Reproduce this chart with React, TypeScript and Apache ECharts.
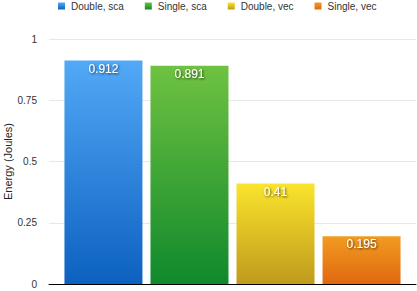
import React, { useEffect, useRef } from "react";
import * as echarts from "echarts";

const seriesNames = ["Double, sca", "Single, sca", "Double, vec", "Single, vec"];
const seriesValues = [0.912, 0.891, 0.41, 0.195];
const yTicks = [0, 0.25, 0.5, 0.75, 1];
const topColors = ["#52a9f6", "#6fc241", "#fae42c", "#f29b22"];
const bottomColors = ["#0c61c0", "#10892c", "#c09a1c", "#e0680f"];

export default function App() {
  const ref = useRef<HTMLDivElement>(null);
  useEffect(() => {
    const chart = echarts.init(ref.current!, null, { renderer: "svg" });
    chart.setOption({
      animation: false,
      textStyle: { fontFamily: "Liberation Sans, Arial, sans-serif" },
      legend: {
        top: 0,
        left: 58,
        padding: [1, 0, 1, 0],
        itemWidth: 9,
        itemHeight: 7,
        itemGap: 21,
        icon: "path://M0,0H7V7H0Z",
        textStyle: { fontSize: 10, color: "#333" },
        data: seriesNames,
      },
      grid: { left: 49, right: 1, top: 39, bottom: 7, containLabel: false, outerBoundsMode: "none" },
      xAxis: {
        type: "category",
        data: [""],
        axisLine: { show: true, lineStyle: { color: "#000", width: 1 } },
        axisTick: { show: false },
        axisLabel: { show: false },
      },
      yAxis: {
        type: "value",
        min: yTicks[0],
        max: yTicks[yTicks.length - 1],
        interval: 0.25,
        name: "Energy (Joules)",
        nameLocation: "middle",
        nameGap: 36,
        nameMoveOverlap: false,
        nameTextStyle: { fontSize: 11, color: "#222" },
        axisLine: { show: false },
        axisTick: { show: false },
        axisLabel: { fontSize: 10, color: "#333", margin: 12 },
        splitLine: { lineStyle: { color: "#e8e8e8" } },
      },
      series: seriesNames.map((name, i) => ({
        type: "bar",
        name,
        data: [seriesValues[i]],
        barWidth: 78,
        barGap: "10.3%",
        itemStyle: {
          color: new echarts.graphic.LinearGradient(0, 0, 0, 1, [
            { offset: 0, color: topColors[i] },
            { offset: 1, color: bottomColors[i] },
          ]),
        },
        label: {
          show: true,
          position: "insideTop",
          distance: 2,
          fontSize: 12,
          color: "#fff",
          textShadowColor: "rgba(0,0,0,0.7)",
          textShadowBlur: 2,
          textShadowOffsetX: 1,
          textShadowOffsetY: 1,
        },
      })),
    });
    return () => chart.dispose();
  }, []);
  return <div ref={ref} style={{ width: 417, height: 291, position: "absolute", left: 0, top: 0 }} />;
}
